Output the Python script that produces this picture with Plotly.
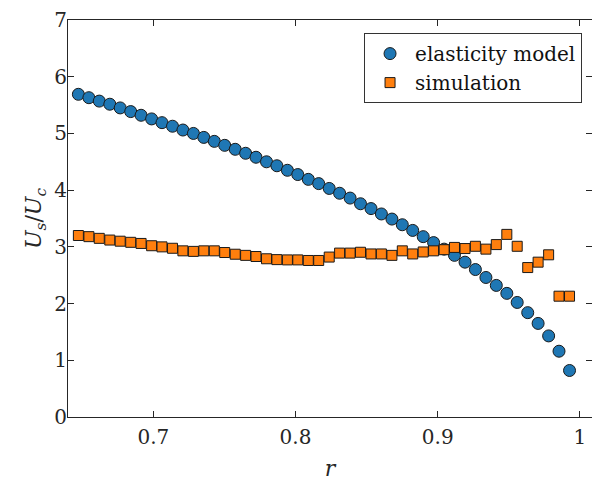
import plotly.graph_objects as go

r_values = [0.6473, 0.6547, 0.6620, 0.6694, 0.6767, 0.6841, 0.6914, 0.6988,
            0.7061, 0.7135, 0.7208, 0.7282, 0.7355, 0.7429, 0.7502, 0.7576,
            0.7649, 0.7722, 0.7796, 0.7869, 0.7943, 0.8016, 0.8090, 0.8163,
            0.8237, 0.8310, 0.8384, 0.8457, 0.8531, 0.8604, 0.8678, 0.8751,
            0.8824, 0.8898, 0.8971, 0.9045, 0.9118, 0.9192, 0.9265, 0.9339,
            0.9412, 0.9486, 0.9559, 0.9633, 0.9706, 0.9780, 0.9853, 0.9927]

elasticity_model = [5.69, 5.63, 5.57, 5.515, 5.45, 5.385, 5.32, 5.256,
                    5.19, 5.127, 5.06, 5.00, 4.93, 4.86, 4.79, 4.72,
                    4.65, 4.58, 4.50, 4.43, 4.35, 4.275, 4.19, 4.115,
                    4.03, 3.945, 3.86, 3.76, 3.675, 3.58, 3.49, 3.39,
                    3.29, 3.18, 3.075, 2.96, 2.85, 2.73, 2.60, 2.46,
                    2.32, 2.18, 2.02, 1.84, 1.65, 1.43, 1.16, 0.82]

simulation = [3.20, 3.18, 3.15, 3.12, 3.10, 3.08, 3.06, 3.02,
              3.00, 2.975, 2.93, 2.92, 2.93, 2.93, 2.90, 2.87,
              2.85, 2.83, 2.79, 2.775, 2.77, 2.77, 2.76, 2.76,
              2.82, 2.89, 2.89, 2.905, 2.875, 2.875, 2.85, 2.93,
              2.875, 2.91, 2.93, 2.95, 2.99, 2.97, 3.01, 2.96,
              3.04, 3.22, 3.01, 2.635, 2.73, 2.86, 2.13, 2.13]

x_tick_vals = [0.7, 0.8, 0.9, 1.0]
x_tick_text = ["0.7", "0.8", "0.9", "1"]
y_tick_vals = [0, 1, 2, 3, 4, 5, 6, 7]
y_tick_text = ["0", "1", "2", "3", "4", "5", "6", "7"]

FONT = "DejaVu Serif"
AX = "#262626"

fig = go.Figure()
fig.add_trace(go.Scatter(
    x=r_values, y=elasticity_model, mode="markers", name="elasticity model",
    marker=dict(symbol="circle", size=12, color="#1f77b4",
                line=dict(color="#1a1a1a", width=1)),
))
fig.add_trace(go.Scatter(
    x=r_values, y=simulation, mode="markers", name="simulation",
    marker=dict(symbol="square", size=10, color="#ff7f0e",
                line=dict(color="#1a1a1a", width=1)),
))

fig.update_layout(
    width=592, height=483,
    margin=dict(l=68, r=0, t=20, b=66),
    paper_bgcolor="white", plot_bgcolor="white",
    font=dict(family=FONT, size=20, color="#262626"),
    legend=dict(
        x=0.981, y=0.967, xanchor="right", yanchor="top",
        bgcolor="white", bordercolor="#333333", borderwidth=1,
        font=dict(family=FONT, size=20, color="#111111"),
        itemwidth=40, tracegroupgap=0,
    ),
    showlegend=True,
)
fig.update_xaxes(
    range=[0.64, 1.0085], tickvals=x_tick_vals, ticktext=x_tick_text,
    ticks="inside", ticklen=6, tickcolor=AX, showline=True, linecolor=AX,
    linewidth=1, mirror="ticks", showgrid=False, zeroline=False,
    tickfont=dict(family=FONT, size=20, color="#262626"),
    ticklabelstandoff=2,
    title=dict(text="<i>r</i>", font=dict(family=FONT, size=22, color="#262626"),
               standoff=12),
)
fig.update_yaxes(
    range=[0, 7], tickvals=y_tick_vals, ticktext=y_tick_text,
    ticks="inside", ticklen=6, tickcolor=AX, showline=True, linecolor=AX,
    linewidth=1, mirror="ticks", showgrid=False, zeroline=False,
    tickfont=dict(family=FONT, size=20, color="#262626"),
    ticklabelstandoff=-4,
    title=dict(text="<i>U</i><sub><i>s</i></sub>/<i>U</i><sub><i>c</i></sub>",
               font=dict(family=FONT, size=22, color="#262626"), standoff=6),
)

fig.write_html("out.html")
